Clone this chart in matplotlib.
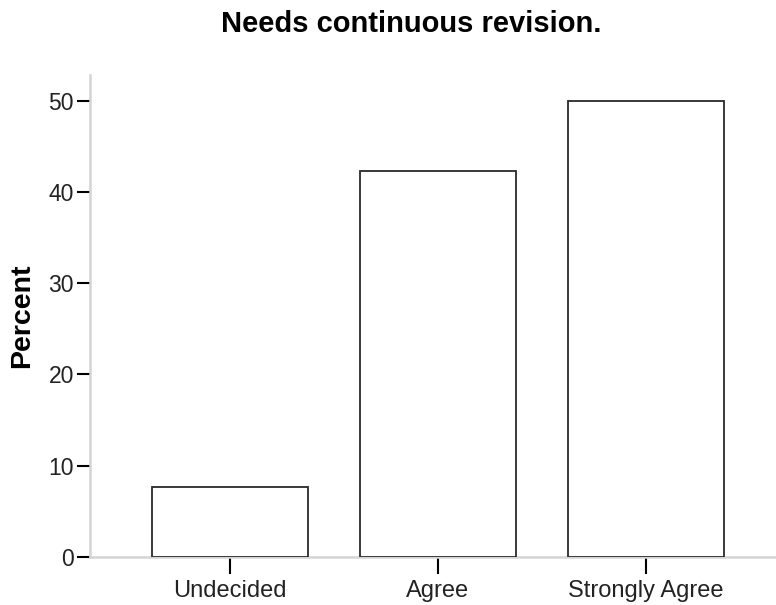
import matplotlib
matplotlib.use("Agg")
import matplotlib.pyplot as plt

categories = ["Undecided", "Agree", "Strongly Agree"]
percent = [7.7, 42.3, 50.0]
yticks = [0, 10, 20, 30, 40, 50]

plt.rcParams['font.family'] = ['Liberation Sans', 'DejaVu Sans']

fig = plt.figure(figsize=(7.76, 6.05), dpi=100)
ax = fig.add_axes([90/776, 1-557/605, 1-90/776, (557-75)/605])

x = list(range(len(categories)))
ax.bar(x, percent, width=0.75, color='white', edgecolor='#2a2a2a', linewidth=1.3, zorder=3)

ax.set_xlim(-0.671, 2.626)
ax.set_ylim(0, 52.8)
ax.set_yticks(yticks)
ax.set_yticklabels([str(t) for t in yticks], fontsize=16.5, color='#222222')
ax.set_xticks(x)
ax.set_xticklabels(categories, fontsize=17, color='#222222')

for s in ['top', 'right']:
    ax.spines[s].set_visible(False)
for s in ['left', 'bottom']:
    ax.spines[s].set_color('#d4d4d4')
    ax.spines[s].set_linewidth(1.8)

ax.tick_params(axis='y', direction='out', length=9.5, width=1.5, color='black', pad=2)
ax.tick_params(axis='x', direction='out', length=12.5, width=1.5, color='black', pad=4)

fig.text(22/776, 1-315.5/605, 'Percent', fontsize=20.5, fontweight='bold',
         rotation=90, ha='center', va='center')
fig.text(411/776, 1-32/605, 'Needs continuous revision.', fontsize=21, fontweight='bold',
         ha='center', va='baseline')

fig.savefig('out.png', dpi=100)
